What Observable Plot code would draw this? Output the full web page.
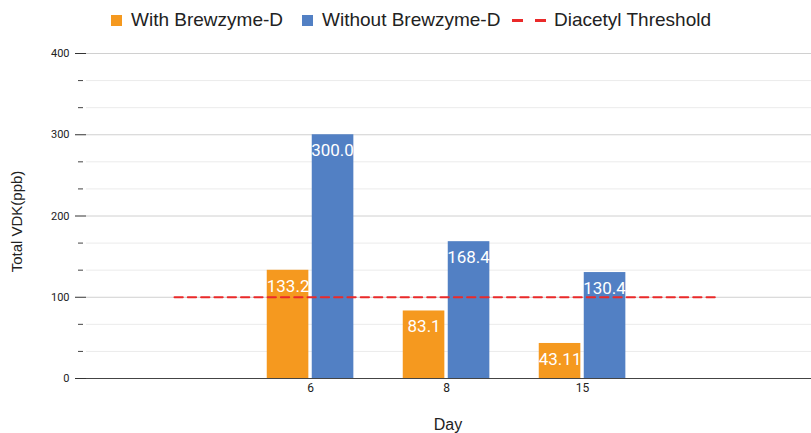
<!DOCTYPE html>
<html>
<head>
<meta charset="utf-8">
<script src="https://cdn.jsdelivr.net/npm/d3@7"></script>
<script src="https://cdn.jsdelivr.net/npm/@observablehq/plot@0.6"></script>
<style>
  html, body { margin: 0; padding: 0; background: #fff; }
  #legend { position: relative; height: 40px; width: 811px; font-family: "Liberation Sans", Arial, sans-serif; font-size: 19px; color: #222; }
  .item { position: absolute; top: 0; height: 40px; display: flex; align-items: center; white-space: nowrap; }
  .sw { width: 11px; height: 11px; margin-right: 9px; }
  .dash { width: 34px; height: 3px; margin-right: 8px; background: linear-gradient(to right, #ea2a2a 0 11px, transparent 11px 23px, #ea2a2a 23px 34px); }
</style>
</head>
<body>
<div id="legend"></div>
<div id="chart"></div>
<script>
const days = ["6", "8", "15"];
const withBrewzyme = [133.2, 83.1, 43.11];
const withoutBrewzyme = [300.0, 168.4, 130.4];
const withLabels = ["133.2", "83.1", "43.11"];
const withoutLabels = ["300.0", "168.4", "130.4"];
const threshold = 100;
const seriesNames = ["With Brewzyme-D", "Without Brewzyme-D", "Diacetyl Threshold"];
const colors = ["#f5991f", "#5280c4", "#ea2a2a"];
const yMajorTicks = [0, 100, 200, 300, 400];
const yMinorTicks = [100/3, 200/3, 400/3, 500/3, 700/3, 800/3, 1000/3, 1100/3];

// hidden padding categories on either side (threshold line spans them)
const padL = "\u200a", padR = "\u200b";
const xDomain = [padL, ...days, padR];

const withData = days.map((d, i) => ({day: d, value: withBrewzyme[i], label: withLabels[i]}));
const withoutData = days.map((d, i) => ({day: d, value: withoutBrewzyme[i], label: withoutLabels[i]}));
const thresholdData = [{day: padL, value: threshold}, {day: padR, value: threshold}];

// legend
const legend = document.getElementById("legend");
const legendPos = [111, 302, 512];
seriesNames.forEach((name, i) => {
  const it = document.createElement("div");
  it.className = "item";
  it.style.left = legendPos[i] + "px";
  const sw = document.createElement("div");
  if (i < 2) { sw.className = "sw"; sw.style.background = colors[i]; }
  else { sw.className = "dash"; }
  it.appendChild(sw);
  const t = document.createElement("span");
  t.textContent = name;
  it.appendChild(t);
  legend.appendChild(it);
});

const chart = Plot.plot({
  width: 811,
  height: 393,
  marginLeft: 86,
  marginRight: 0,
  marginTop: 13,
  marginBottom: 55,
  style: {fontFamily: "Roboto, 'Liberation Sans', Arial, sans-serif", background: "#fff"},
  x: {domain: xDomain, range: [104, 787.5], padding: 0, axis: null},
  y: {domain: [0, 400], axis: null},
  marks: [
    Plot.ruleY(yMinorTicks, {stroke: "#ebebeb", strokeWidth: 1}),
    Plot.ruleY(yMajorTicks.slice(1), {stroke: "#d0d0d0", strokeWidth: 1}),
    Plot.axisY({ticks: yMinorTicks, tickSize: 5, dx: -3, text: null, label: null, stroke: "#444"}),
    Plot.axisY({ticks: yMajorTicks, tickSize: 11, tickPadding: 6, fontSize: 11, fill: "#222", stroke: "#333", label: null, tickFormat: d3.format("d")}),
    Plot.barY(withData, {x: "day", y: "value", fill: colors[0], insetLeft: 24.75, insetRight: 69.65}),
    Plot.barY(withoutData, {x: "day", y: "value", fill: colors[1], insetLeft: 69.75, insetRight: 24.65}),
    Plot.ruleY([0], {stroke: "#444", strokeWidth: 1.2}),
    Plot.lineY(thresholdData, {x: "day", y: "value", stroke: colors[2], strokeWidth: 2, strokeDasharray: "8.3,5"}),
    Plot.text(withData, {x: "day", y: "value", text: "label", dx: -22.4, dy: 16, fill: "#fff", fontSize: 17}),
    Plot.text(withoutData, {x: "day", y: "value", text: "label", dx: 22, dy: 16, fill: "#fff", fontSize: 17}),
    Plot.axisX({domain: xDomain, tickSize: 0, tickPadding: 5, fontSize: 12, fill: "#222", label: null, tickFormat: d => days.includes(d) ? d : ""}),
    Plot.text(["Day"], {frameAnchor: "bottom", dy: 51, dx: -1, fontSize: 16, fill: "#222", fontFamily: "'Liberation Sans', Arial, sans-serif"}),
    Plot.text(["Total VDK(ppb)"], {frameAnchor: "left", textAnchor: "middle", dx: -69, dy: 5.5, rotate: -90, fontSize: 15, fill: "#222", fontFamily: "'Liberation Sans', Arial, sans-serif"})
  ]
});
document.getElementById("chart").appendChild(chart);
</script>
</body>
</html>
